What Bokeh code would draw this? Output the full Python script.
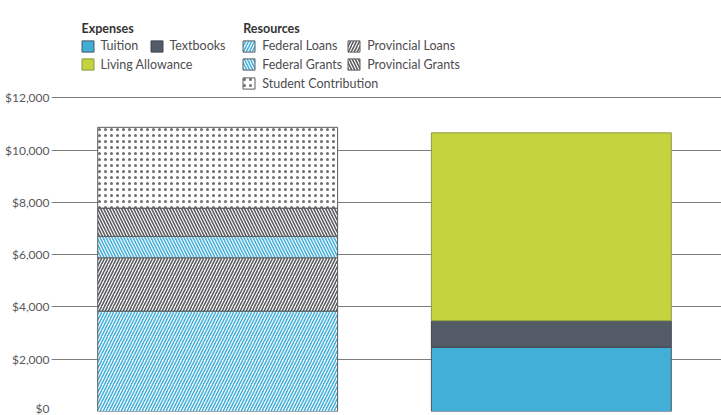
from bokeh.plotting import figure
from bokeh.models import ColumnDataSource, Range1d, Legend, LegendItem, Label, FixedTicker, CustomJSTickFormatter
from bokeh.embed import file_html
from bokeh.resources import INLINE

# Two stacked bars: where the money comes from vs. where it goes
bars = ["Resources", "Expenses"]

resource_keys = ["federal_loans", "provincial_loans", "federal_grants", "provincial_grants", "student_contribution"]
resource_labels = ["Federal Loans", "Provincial Loans", "Federal Grants", "Provincial Grants", "Student Contribution"]
resource_values = [3840, 2040, 820, 1080, 3090]

expense_keys = ["tuition", "textbooks", "living_allowance"]
expense_labels = ["Tuition", "Textbooks", "Living Allowance"]
expense_values = [2460, 1010, 7190]

y_ticks = [0, 2000, 4000, 6000, 8000, 10000, 12000]

BLUE = "#45b0da"
GREY = "#5b5c5f"
DOT = "#6d6e71"
TEXT = "#4d4d4f"

# bars sit at positions 0 and 1 along x
bar_pos = list(range(len(bars)))

p = figure(
    width=721, height=415,
    x_range=Range1d(-0.498, 1.51),
    y_range=Range1d(0, 15722),
    output_backend="svg", toolbar_location=None,
    min_border_left=51, min_border_right=0, min_border_top=0, min_border_bottom=4,
)
p.outline_line_color = None
p.background_fill_color = "white"

res_src = ColumnDataSource(dict(x=[bar_pos[0]], **{k: [v] for k, v in zip(resource_keys, resource_values)}))
exp_src = ColumnDataSource(dict(x=[bar_pos[1]], **{k: [v] for k, v in zip(expense_keys, expense_values)}))

bar_width = 0.719

res_renderers = p.vbar_stack(
    resource_keys, x="x", width=bar_width, source=res_src,
    fill_color="white",
    line_color=GREY, line_width=1,
    hatch_pattern=["/", "/", "\\", "\\", "."],
    hatch_color=[BLUE, GREY, BLUE, GREY, DOT],
    hatch_weight=[1.6, 1.6, 1.6, 1.6, 2.2],
    hatch_scale=[6, 6, 6, 6, 6],
)

exp_renderers = p.vbar_stack(
    expense_keys, x="x", width=bar_width, source=exp_src,
    fill_color=["#42afd8", "#525b66", "#c3d43f"],
    line_color=["#4a5560", "#3f4650", "#8d9a45"], line_width=1,
)

# Axes
p.xaxis.visible = False
yax = p.yaxis[0]
yax.ticker = FixedTicker(ticks=y_ticks)
yax.formatter = CustomJSTickFormatter(code="return '$' + tick.toLocaleString('en-US');")
yax.axis_line_color = None
yax.major_tick_line_color = None
yax.minor_tick_line_color = None
yax.major_tick_out = 0
yax.major_tick_in = 0
yax.minor_tick_out = 0
yax.minor_tick_in = 0
yax.major_label_standoff = 2
yax.major_label_text_font = "Lato"
yax.major_label_text_font_size = "12px"
yax.major_label_text_color = "#58595b"

p.xgrid.visible = False
p.ygrid.grid_line_color = "#7d7d7d"
p.ygrid.grid_line_width = 1

# Legend, laid out as a flowing key above the bars
FRAME_LEFT = 51
FRAME_BOTTOM = 411
GW, GH = 15, 14


def key_item(label, renderer, swatch_left, swatch_top):
    sx = swatch_left - GW * 0.1 - FRAME_LEFT
    bottom = swatch_top - GH * 0.1 + GH
    sy = FRAME_BOTTOM - bottom
    lg = Legend(
        items=[LegendItem(label=label, renderers=[renderer])],
        location=(sx, sy), orientation="horizontal",
        padding=0, margin=0, spacing=0,
        border_line_alpha=0, background_fill_alpha=0,
        glyph_width=GW, glyph_height=GH, label_height=GH, label_standoff=6,
        label_text_font="Lato", label_text_font_size="12.5px", label_text_color=TEXT,
    )
    p.add_layout(lg)


key_item(expense_labels[0], exp_renderers[0], 81, 40.7)
key_item(expense_labels[1], exp_renderers[1], 150, 40.7)
key_item(expense_labels[2], exp_renderers[2], 81, 59.3)

key_item(resource_labels[0], res_renderers[0], 242.7, 40.7)
key_item(resource_labels[1], res_renderers[1], 347.7, 40.7)
key_item(resource_labels[2], res_renderers[2], 242.7, 59.3)
key_item(resource_labels[3], res_renderers[3], 347.7, 59.3)
key_item(resource_labels[4], res_renderers[4], 242.7, 78)

for title, left in (("Expenses", 81), ("Resources", 242.7)):
    p.add_layout(Label(
        x=left - FRAME_LEFT, y=FRAME_BOTTOM - 28, x_units="screen", y_units="screen",
        text=title, text_font="Lato", text_font_style="bold", text_font_size="12.5px",
        text_color="#333333", text_baseline="middle",
    ))

open("out.html", "w").write(file_html(p, INLINE))
